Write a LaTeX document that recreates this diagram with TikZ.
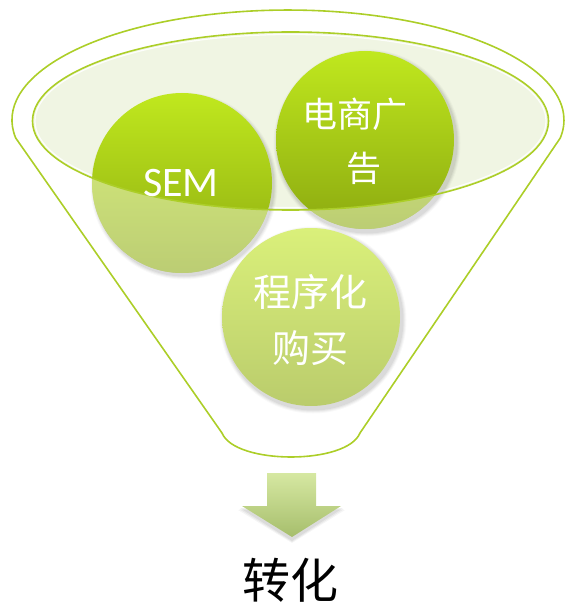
\documentclass[tikz,border=0pt]{standalone}
\usepackage{fontspec}
\newfontfamily\carlito{Carlito}
\newfontfamily\cjk{Noto Sans CJK SC}
\definecolor{fline}{RGB}{172,206,40}
\definecolor{efill}{RGB}{240,245,227}
\definecolor{vtop}{RGB}{192,232,30}
\definecolor{vbot}{RGB}{140,170,16}
\definecolor{ptop}{RGB}{218,240,122}
\definecolor{pbot}{RGB}{186,204,108}
\definecolor{atop}{RGB}{214,232,162}
\definecolor{abot}{RGB}{166,190,108}
\tikzset{
  funnelline/.style={draw=fline, line width=1.6pt},
  bubbletext/.style={text=white, align=center, inner sep=0pt},
}
\begin{document}
\begin{tikzpicture}[x=1pt,y=-1pt]
\useasboundingbox (0,0) rectangle (565,604);
% funnel outline
\draw[funnelline, line join=round] (15.7,138) arc[start angle=170.6, end angle=369.4, x radius=276, y radius=110]
  -- (360,433) .. controls (347,465) and (235,465) .. (222,433) -- cycle;
% inner ellipse (top of funnel)
\fill[efill] (290.5,121) ellipse[x radius=258, y radius=89];
\draw[white, line width=1.2pt, opacity=0.9] (290.5,121) ellipse[x radius=255.5, y radius=86.5];
% shadows of bubbles
\foreach \cx/\cy in {182/183, 365/140, 311/317}{
  \foreach \r/\o in {93.5/0.025, 92.5/0.035, 91.5/0.045, 90.5/0.05}{
    \fill[black, opacity=\o] (\cx+2,\cy+3) circle[radius=\r];
  }
}
% SEM bubble
\shade[top color=vtop, bottom color=vbot] (182,183) circle[radius=90];
\begin{scope}
  \clip (182,183) circle[radius=90];
  \fill[white, opacity=0.42, even odd rule] (0,0) rectangle (565,604) (290.5,121) ellipse[x radius=258, y radius=89];
\end{scope}
% e-commerce bubble
\shade[top color=vtop, bottom color=vbot] (365,140) circle[radius=89];
\begin{scope}
  \clip (365,140) circle[radius=89];
  \fill[white, opacity=0.42, even odd rule] (0,0) rectangle (565,604) (290.5,121) ellipse[x radius=258, y radius=89];
\end{scope}
% programmatic bubble
\shade[top color=ptop, bottom color=pbot] (311,317) circle[radius=89];
% inner ellipse outline over bubbles
\draw[funnelline] (290.5,121) ellipse[x radius=258, y radius=89];
% texts
\node[bubbletext, font=\carlito\fontsize{42}{50}\selectfont] (sem) at (181,183) {SEM};
\node[bubbletext, font=\cjk\fontsize{35}{55}\selectfont] (ds1) at (355,114) {电商广};
\node[bubbletext, font=\cjk\fontsize{35}{55}\selectfont] (ds2) at (364,168) {告};
\node[bubbletext, font=\cjk\fontsize{38}{56}\selectfont] (cx) at (310,320) {程序化\\购买};
% arrow shadow
\foreach \d/\o in {4/0.04, 3/0.05, 2/0.06}{
  \fill[black, opacity=\o] (242-\d,506+\d) -- (341+\d,506+\d) -- (292,537+\d+2) -- cycle;
}
% arrow
\shade[top color=atop, bottom color=abot] (267,473) -- (316,473) -- (316,506) -- (341,506) -- (292,537) -- (242,506) -- (267,506) -- cycle;
% result
\node[font=\cjk\fontsize{48}{50}\selectfont, text=black, inner sep=0pt] (zh) at (290,580) {转化};
\end{tikzpicture}
\end{document}
